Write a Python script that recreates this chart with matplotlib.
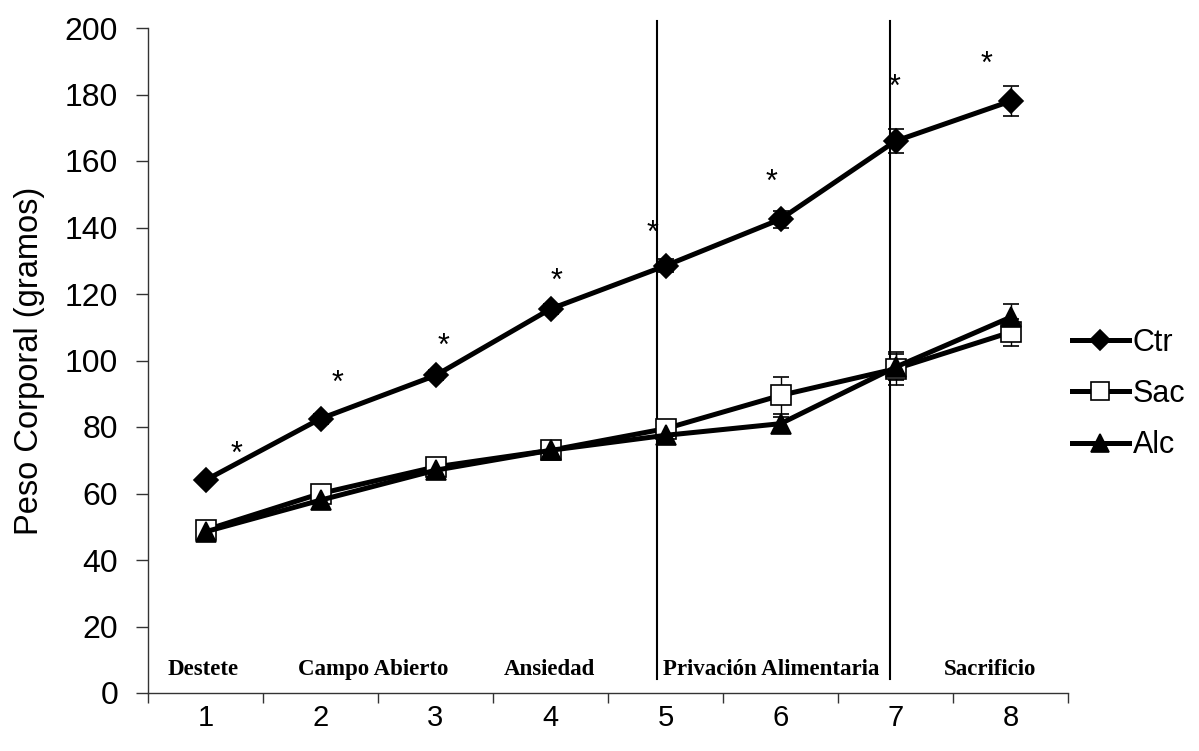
import matplotlib
matplotlib.use("Agg")
import matplotlib.pyplot as plt
from matplotlib.lines import Line2D
import numpy as np

# Sessions (x axis) and mean body weight per group (grams)
sessions = [1, 2, 3, 4, 5, 6, 7, 8]
ctr = [64, 82.5, 95.5, 115.5, 128.5, 142.5, 166, 178]
sac = [49, 60, 68, 73, 79.5, 89.5, 97.5, 108.5]
alc = [48.5, 58, 67, 73, 77.5, 81, 98, 113]

# Standard errors
ctr_err = [1, 1.5, 1.5, 1.5, 2, 2.5, 3.5, 4.5]
sac_err = [1, 1.5, 1.5, 1.5, 2, 5.5, 5, 4]
alc_err = [1, 1, 1, 1, 1.5, 2, 4, 4]

# Significance marks (x, y of the asterisk centre)
star_x = [1.27, 2.15, 3.07, 4.05, 4.89, 5.92, 6.99, 7.79]
star_y = [74.5, 96, 107, 126.5, 141, 156.5, 185, 192]

# Experimental phases
phase_names = ["Destete", "Campo Abierto", "Ansiedad", "Privación Alimentaria", "Sacrificio"]
phase_x = [0.98, 2.46, 3.99, 5.92, 7.82]
phase_bounds = [4.93, 6.95]

groups = ["Ctr", "Sac", "Alc"]
markers = ["D", "s", "^"]
sizes = [12, 15, 15]
faces = ["black", "white", "black"]

plt.rcParams["font.family"] = ["Liberation Sans", "DejaVu Sans"]

fig = plt.figure(figsize=(11.99, 7.51), dpi=100)
ax = fig.add_axes([148 / 1199, 58 / 751, 920 / 1199, 665 / 751])

common = dict(color="black", lw=3.6, ecolor="black", elinewidth=1.0,
              capsize=6, capthick=1.0)
for vals, errs, mk, ms, fc in zip([ctr, sac, alc], [ctr_err, sac_err, alc_err],
                                  markers, sizes, faces):
    ax.errorbar(sessions, vals, yerr=errs, marker=mk, ms=ms, mfc=fc,
                mec="black", mew=1.2, **common)

# Phase boundaries
for xb in phase_bounds:
    ax.plot([xb, xb], [4.2, 202], color="black", lw=1.5, clip_on=False)

# Phase names
for name, xp in zip(phase_names, phase_x):
    ax.text(xp, 7, name, ha="center", va="center", fontsize=16.5,
            fontweight="bold", family=["Liberation Serif", "DejaVu Serif"])

# Asterisks
for xs, ys in zip(star_x, star_y):
    ax.text(xs, ys - 5.4, "*", ha="center", va="baseline", fontsize=22)

ax.set_xlim(0.5, 8.5)
ax.set_ylim(0, 200)
ax.set_yticks(np.arange(0, 201, 20))
ax.set_xticks(sessions)
ax.set_xticks(np.arange(0.5, 8.6, 1), minor=True)
ax.tick_params(axis="x", which="major", length=0, pad=8, labelsize=21)
ax.tick_params(axis="x", which="minor", length=7.5, width=1, color="#333333")
ax.tick_params(axis="y", length=8.5, width=1, pad=13, labelsize=23, color="#333333")

for s in ["top", "right"]:
    ax.spines[s].set_visible(False)
for s in ["left", "bottom"]:
    ax.spines[s].set_color("#333333")
    ax.spines[s].set_linewidth(1.0)

ax.set_ylabel("Peso Corporal (gramos)", fontsize=23.5, labelpad=14)

handles = [Line2D([], [], color="black", lw=3.6, marker=mk, ms=ms * 0.85,
                  mfc=fc, mec="black", mew=1.2)
           for mk, ms, fc in zip(markers, sizes, faces)]
ax.legend(handles, groups, loc="center left",
          bbox_to_anchor=(1072 / 1199, (751 - 394) / 751),
          bbox_transform=fig.transFigure, frameon=False, fontsize=22,
          handlelength=1.85, handletextpad=0.13, labelspacing=0.7,
          borderpad=0, borderaxespad=0)

fig.savefig("out.png", dpi=100)
